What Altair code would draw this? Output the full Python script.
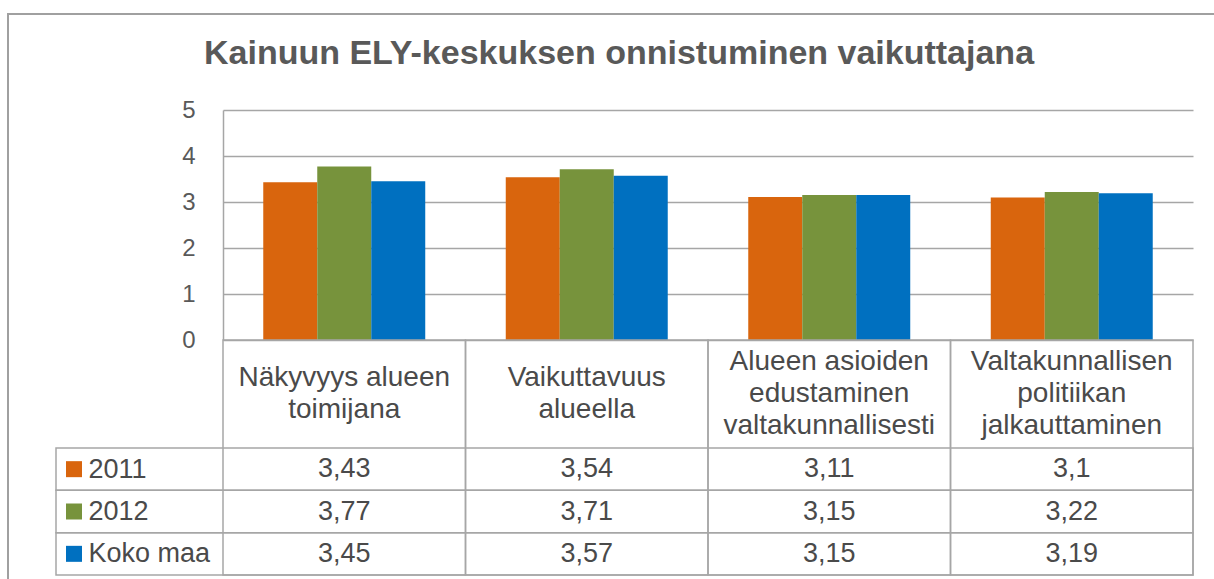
import altair as alt
import pandas as pd

title_text = "Kainuun ELY-keskuksen onnistuminen vaikuttajana"
categories = [
    "Näkyvyys alueen toimijana",
    "Vaikuttavuus alueella",
    "Alueen asioiden edustaminen valtakunnallisesti",
    "Valtakunnallisen politiikan jalkauttaminen",
]
category_labels = [
    "Näkyvyys alueen\ntoimijana",
    "Vaikuttavuus\nalueella",
    "Alueen asioiden\nedustaminen\nvaltakunnallisesti",
    "Valtakunnallisen\npolitiikan\njalkauttaminen",
]
series = ["2011", "2012", "Koko maa"]
values_2011 = [3.43, 3.54, 3.11, 3.1]
values_2012 = [3.77, 3.71, 3.15, 3.22]
values_koko = [3.45, 3.57, 3.15, 3.19]
colors = ["#D9650D", "#77933C", "#0070C0"]
y_ticks = [0, 1, 2, 3, 4, 5]

FONT = "Liberation Sans"
GRID = "#A6A6A6"
TXT = "#4A4A4A"

rows = []
for s, vals in zip(series, [values_2011, values_2012, values_koko]):
    for c, v in zip(categories, vals):
        rows.append({"cat": c, "series": s, "value": v,
                     "label": str(v).replace(".", ",")})
df = pd.DataFrame(rows)
cat_df = pd.DataFrame({"cat": categories, "label": category_labels})
ser_df = pd.DataFrame({"series": series})

x_bar = alt.Scale(domain=categories, paddingInner=0.332, paddingOuter=0.166)
x_tab = alt.Scale(domain=categories, paddingInner=0, paddingOuter=0)
y_val = alt.Scale(domain=[0, 5], range=[230, 0], nice=False)
y_row = alt.Scale(domain=series, range=[338, 465], paddingInner=0, paddingOuter=0)
col_scale = alt.Scale(domain=series, range=colors)

frame = alt.Chart(pd.DataFrame({"k": [0]})).mark_rect(
    fillOpacity=0, stroke="#A0A0A0", strokeWidth=2
).encode(x=alt.value(-215), x2=alt.value(1010), y=alt.value(-96), y2=alt.value(480))

bars = alt.Chart(df).mark_bar().encode(
    x=alt.X("cat:N", scale=x_bar, axis=None, sort=categories),
    xOffset=alt.XOffset("series:N", scale=alt.Scale(domain=series, paddingInner=0, paddingOuter=0), sort=series),
    y=alt.Y("value:Q", scale=y_val, axis=alt.Axis(
        values=y_ticks, grid=True, gridColor=GRID, gridWidth=1.5,
        domain=True, domainColor=GRID, domainWidth=1.5, ticks=False, tickSize=0,
        labelPadding=28, labelFontSize=24, labelColor="#595959", labelFont=FONT,
        title=None)),
    color=alt.Color("series:N", scale=col_scale, legend=None),
)

cols = alt.Chart(cat_df).mark_rect(fillOpacity=0, stroke=GRID, strokeWidth=1.5).encode(
    x=alt.X("cat:N", scale=x_tab, axis=None, sort=categories),
    y=alt.value(230), y2=alt.value(465),
)

row_boxes = alt.Chart(ser_df).mark_rect(fillOpacity=0, stroke=GRID, strokeWidth=1.5).encode(
    x=alt.value(-167), x2=alt.value("width"),
    y=alt.Y("series:N", scale=y_row, axis=None, sort=series),
)

# header labels: vertically centre each multi-line block in the header row
header = alt.Chart(cat_df).transform_calculate(
    ypos="284 - (length(split(datum.label, '\\n')) - 1) * 16"
).mark_text(
    lineBreak="\n", fontSize=28, color=TXT, font=FONT, baseline="middle", lineHeight=32
).encode(
    x=alt.X("cat:N", scale=x_tab, axis=None, sort=categories),
    y=alt.Y("ypos:Q", scale=None, axis=None),
    text="label:N",
)

cells = alt.Chart(df).mark_text(fontSize=27, color=TXT, font=FONT, baseline="middle").encode(
    x=alt.X("cat:N", scale=x_tab, axis=None, sort=categories),
    y=alt.Y("series:N", scale=y_row, sort=series, axis=alt.Axis(
        orient="left", labelAlign="left", labelPadding=135, ticks=False, tickSize=0,
        domain=False, grid=False, labelFontSize=27, labelColor=TXT, labelFont=FONT,
        title=None)),
    text="label:N",
)

keys = alt.Chart(ser_df).mark_square(size=256, opacity=1).encode(
    x=alt.value(-149),
    y=alt.Y("series:N", scale=y_row, axis=None, sort=series),
    color=alt.Color("series:N", scale=col_scale, legend=None),
)

chart = alt.layer(frame, bars, cols, row_boxes, header, cells, keys).resolve_scale(
    x="independent", y="independent"
).properties(
    width=970, height=465,
    padding={"left": 223, "top": 110, "right": 21, "bottom": 4},
    autosize=alt.AutoSizeParams(type="none"),
    title=alt.TitleParams(title_text, fontSize=34, font=FONT, fontWeight="bold",
                          color="#595959", anchor="middle", baseline="alphabetic",
                          offset=-85, dx=-89),
).configure_view(stroke=None)

chart.save("out.html", embed_options={"renderer": "svg", "actions": False})
